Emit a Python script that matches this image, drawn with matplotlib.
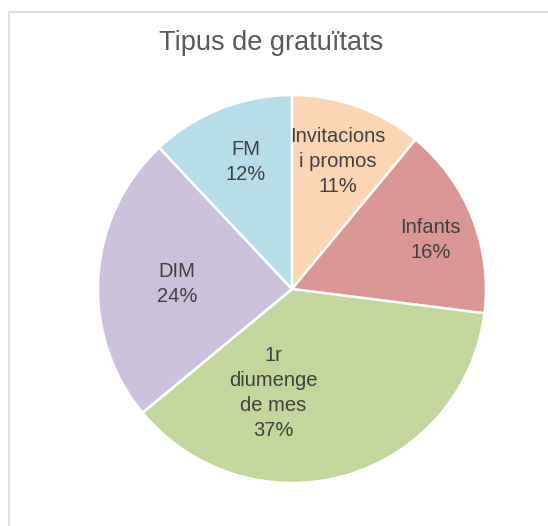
import matplotlib.pyplot as plt
from matplotlib.patches import Rectangle

# Tipus de gratuïtats (percentatges)
labels = ['Invitacions\ni promos', 'Infants', '1r\ndiumenge\nde mes', 'DIM', 'FM']
values = [11, 16, 37, 24, 12]
colors = ['#FCD5B5', '#D99694', '#C3D69B', '#CCC1DA', '#B7DEE8']

# label anchor points, in units of pie radius
label_pos = [(0.237, 0.655), (0.716, 0.253), (-0.098, -0.536), (-0.593, 0.026), (-0.237, 0.655)]

plt.rcParams['font.family'] = ['Liberation Sans', 'DejaVu Sans']

fig = plt.figure(figsize=(5.48, 5.26), dpi=100)
ax = fig.add_axes([0.1788, 0.0817, 0.708, 0.7376])

ax.pie(values, colors=colors, startangle=90, counterclock=False, radius=1,
       wedgeprops=dict(edgecolor='white', linewidth=1.8))
ax.set_xlim(-1, 1)
ax.set_ylim(-1, 1)
ax.set_aspect('equal')

total = sum(values)
for lab, v, (x, y) in zip(labels, values, label_pos):
    ax.text(x, y, f"{lab}\n{round(100 * v / total)}%", ha='center', va='center',
            fontsize=14.5, color='#404040', linespacing=1.4)

fig.text(271 / 548, 1 - 43 / 526, 'Tipus de gratuïtats', ha='center', va='center',
         fontsize=19.5, color='#595959')

# chart area border (only top and left edges fall inside the image)
fig.add_artist(Rectangle((8.5 / 548, -0.5), 2, 0.5 + (1 - 12 / 526), transform=fig.transFigure,
                         fill=False, edgecolor='#D9D9D9', linewidth=1.2))

fig.savefig('out.png', dpi=100)
